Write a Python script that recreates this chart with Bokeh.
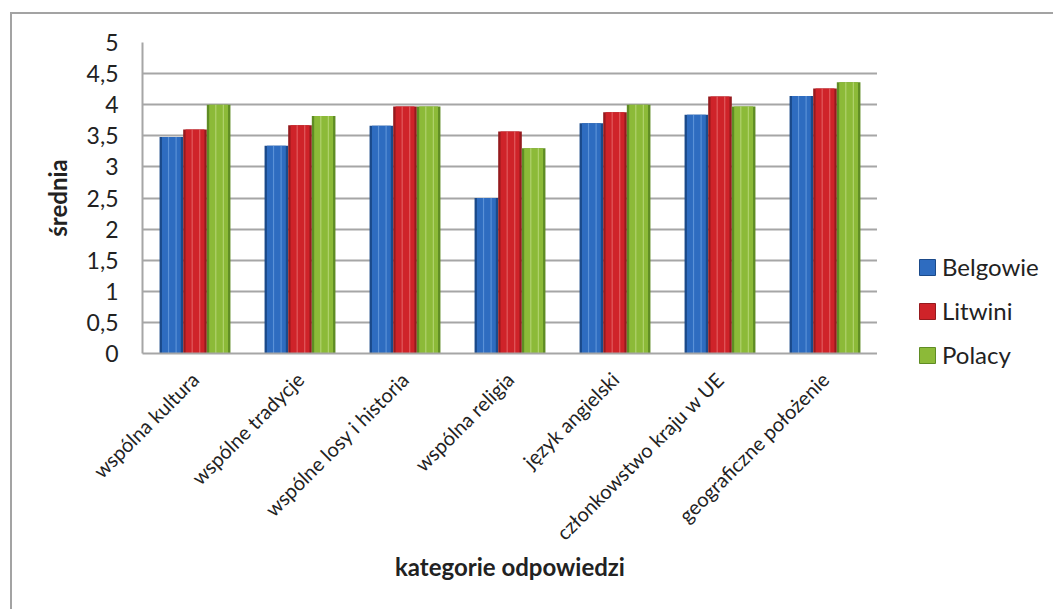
import math
from bokeh.plotting import figure
from bokeh.layouts import row
from bokeh.models import (ColumnDataSource, FactorRange, FixedTicker, CustomJSTickFormatter,
                          Legend, LegendItem, Range1d)
from bokeh.transform import dodge
from bokeh.embed import file_html
from bokeh.resources import INLINE

categories = ["wspólna kultura", "wspólne tradycje", "wspólne losy i historia", "wspólna religia",
              "język angielski", "członkowstwo kraju w UE", "geograficzne położenie"]
belgowie = [3.48, 3.34, 3.66, 2.50, 3.70, 3.84, 4.14]
litwini = [3.60, 3.67, 3.97, 3.57, 3.88, 4.13, 4.26]
polacy = [4.00, 3.82, 3.97, 3.30, 4.00, 3.97, 4.36]
series_names = ["Belgowie", "Litwini", "Polacy"]
y_ticks = [0, 0.5, 1, 1.5, 2, 2.5, 3, 3.5, 4, 4.5, 5]

FONT = "Lato"
TEXT = "#222222"
palette = [
    ("#1b4a8a", "#2e6cc0", "#7fb0ea"),
    ("#961a1e", "#cf2329", "#f08a8a"),
    ("#5f8c24", "#8cba38", "#cfe79a"),
]

source = ColumnDataSource(dict(cat=categories, Belgowie=belgowie, Litwini=litwini, Polacy=polacy))

# main chart: frame from x=142 to x=877, y=42 to y=353
p = figure(width=877, height=609, x_range=FactorRange(*categories), y_range=Range1d(0, 5),
           output_backend="svg", toolbar_location=None,
           min_border_left=142, min_border_right=0, min_border_top=42, min_border_bottom=256)
p.outline_line_color = None
p.background_fill_color = "white"
p.border_fill_alpha = 0

bw = 0.225
offsets = [-bw, 0.0, bw]
for name, off, (dark, main, light) in zip(series_names, offsets, palette):
    p.vbar(x=dodge("cat", off, range=p.x_range), top=name, width=bw, source=source,
           fill_color=dark, line_color=None)
    p.vbar(x=dodge("cat", off, range=p.x_range), top=name, width=bw * 0.8, source=source,
           fill_color=main, line_color=None)
    for d in (-0.12, 0.2):
        p.vbar(x=dodge("cat", off + bw * d, range=p.x_range), top=name, width=bw * 0.05, source=source,
               fill_color=light, fill_alpha=0.55, line_color=None)

# y axis
p.yaxis.ticker = FixedTicker(ticks=y_ticks)
p.yaxis.formatter = CustomJSTickFormatter(code="return tick.toString().replace('.', ',');")
p.yaxis.major_label_text_font = FONT
p.yaxis.major_label_text_font_size = "23px"
p.yaxis.major_label_text_color = TEXT
p.yaxis.major_label_standoff = 24
p.yaxis.major_tick_in = 0
p.yaxis.major_tick_out = 0
p.yaxis.minor_tick_in = 0
p.yaxis.minor_tick_out = 0
p.yaxis.axis_line_color = "#a6a6a6"
p.yaxis.axis_line_width = 2
p.yaxis.axis_label = "średnia"
p.yaxis.axis_label_text_font = FONT
p.yaxis.axis_label_text_font_style = "bold"
p.yaxis.axis_label_text_font_size = "24px"
p.yaxis.axis_label_text_color = TEXT
p.yaxis.axis_label_standoff = 12

# x axis
p.xaxis.major_label_orientation = math.pi / 4
p.xaxis.major_label_text_font = FONT
p.xaxis.major_label_text_font_size = "20px"
p.xaxis.major_label_text_color = TEXT
p.xaxis.major_label_standoff = 22
p.xaxis.major_tick_in = 0
p.xaxis.major_tick_out = 0
p.xaxis.axis_line_color = "#a6a6a6"
p.xaxis.axis_line_width = 2
p.xaxis.axis_label = "kategorie odpowiedzi"
p.xaxis.axis_label_text_font = FONT
p.xaxis.axis_label_text_font_style = "bold"
p.xaxis.axis_label_text_font_size = "24px"
p.xaxis.axis_label_text_color = TEXT
p.xaxis.axis_label_standoff = -4

p.xgrid.grid_line_color = None
p.ygrid.grid_line_color = "#a6a6a6"
p.ygrid.grid_line_width = 2

# legend panel (separate figure to the right of the plot area)
q = figure(width=176, height=609, x_range=Range1d(0, 1), y_range=Range1d(0, 1),
           output_backend="svg", toolbar_location=None, x_axis_type=None, y_axis_type=None,
           min_border_left=0, min_border_right=0, min_border_top=0, min_border_bottom=0)
q.frame_align = False
q.outline_line_color = None
q.grid.visible = False
q.background_fill_alpha = 0
q.border_fill_alpha = 0
hidden = ColumnDataSource(dict(x=[float("nan")], top=[float("nan")]))
legend_items = []
for name, (dark, main, light) in zip(series_names, palette):
    r = q.vbar(x="x", top="top", width=0.1, source=hidden, fill_color=main, line_color=dark, line_width=1)
    legend_items.append(LegendItem(label=name, renderers=[r]))

legend = Legend(items=legend_items, location=(40, 240), orientation="vertical",
                glyph_width=20, glyph_height=20, label_height=20, spacing=15,
                label_standoff=5, padding=0, margin=0, border_line_color=None,
                background_fill_alpha=0,
                label_text_font=FONT, label_text_font_size="24px", label_text_color=TEXT)
q.add_layout(legend, "center")

layout = row(p, q, spacing=0)
layout.styles = {
    "background": ("linear-gradient(#a3a3a3, #a3a3a3) 10px 12px / 2px 100% no-repeat, "
                   "linear-gradient(#a3a3a3, #a3a3a3) 10px 12px / 100% 2px no-repeat, white"),
}

open("out.html", "w").write(file_html(layout, INLINE))
